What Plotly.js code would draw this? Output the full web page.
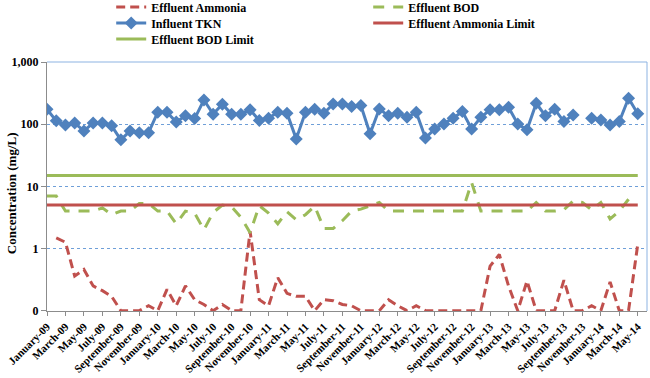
<!DOCTYPE html>
<html>
<head>
<meta charset="utf-8">
<script src="https://cdn.plot.ly/plotly-3.0.1.min.js"></script>
<style>html,body{margin:0;padding:0;background:#fff;}#chart{width:650px;height:378px;}</style>
</head>
<body>
<div id="chart"></div>
<script>
const months = [
 "January-09","February-09","March-09","April-09","May-09","June-09","July-09","August-09","September-09","October-09","November-09","December-09",
 "January-10","February-10","March-10","April-10","May-10","June-10","July-10","August-10","September-10","October-10","November-10","December-10",
 "January-11","February-11","March-11","April-11","May-11","June-11","July-11","August-11","September-11","October-11","November-11","December-11",
 "January-12","February-12","March-12","April-12","May-12","June-12","July-12","August-12","September-12","October-12","November-12","December-12",
 "January-13","February-13","March-13","April-13","May-13","June-13","July-13","August-13","September-13","October-13","November-13","December-13",
 "January-14","February-14","March-14","April-14","May-14"
];
const tickLabels = [
 "January-09","March-09","May-09","July-09","September-09","November-09",
 "January-10","March-10","May-10","July-10","September-10","November-10",
 "January-11","March-11","May-11","July-11","September-11","November-11",
 "January-12","March-12","May-12","July-12","September-12","November-12",
 "January-13","March-13","May-13","July-13","September-13","November-13",
 "January-14","March-14","May-14"
];
const influentTKN = [
 174,113,97,104,78,104,104,94,56,78,73,73,
 156,156,108,136,123,245,145,210,145,145,170,115,
 125,156,150,58,156,174,150,212,212,192,200,70,
 176,136,150,129,156,60,84,101,125,160,84,129,
 170,170,187,101,81,217,136,174,110,141,null,125,
 117,97,110,261,147
];
const effluentAmmonia = [
 null,1.48,1.26,0.36,0.46,0.25,0.21,0.17,0.1,0.1,0.1,0.12,
 0.1,0.22,0.12,0.25,0.15,0.126,0.1,0.126,0.1,0.1,1.9,0.15,
 0.12,0.34,0.19,0.17,0.17,0.1,0.15,0.145,0.126,0.12,0.1,0.1,
 0.1,0.15,0.12,0.1,0.12,0.1,0.1,0.1,0.1,0.1,0.1,0.1,
 0.52,0.8,0.25,0.1,0.3,0.1,0.1,0.1,0.31,0.1,0.1,0.12,
 0.1,0.29,0.1,0.1,1.17
];
const effluentBOD = [
 7,7,4,4,4,4,4.5,3.5,4,4,5.3,5.3,
 4,4,2.5,4,3.7,2.0,3.8,5.0,4.7,3.2,1.8,4.9,
 3.7,2.5,3.9,2.9,3.5,4.8,2.1,2.1,2.8,4.0,4.3,4.8,
 5.5,4,4,4,4,4,4,4,4,4,11.5,4,
 4,4,4,4,4,5.5,4,4,4.2,5.8,5.5,4.2,
 5.5,3.0,4.0,6.2,null
];
const ammoniaLimit = 5;
const bodLimit = 15;
const yTickVals = [0.1, 1, 10, 100, 1000];
const yTickText = ["0", "1", "10", "100", "1,000"];

const FONT = "Liberation Serif";
const RED = "#c0504d", GREEN = "#9bbb59", BLUE = "#4f81bd";
const limitX = [months[0], months[months.length - 1]];

const traces = [
 {name: "Effluent Ammonia", x: months, y: effluentAmmonia, type: "scatter", mode: "lines",
  line: {color: RED, width: 3, dash: "9px,5px"}, legend: "legend"},
 {name: "Effluent BOD", x: months, y: effluentBOD, type: "scatter", mode: "lines",
  line: {color: GREEN, width: 3, dash: "11px,9px"}, legend: "legend"},
 {name: "Influent TKN", x: months, y: influentTKN, type: "scatter", mode: "lines+markers",
  line: {color: BLUE, width: 3}, marker: {symbol: "diamond", size: 10, color: BLUE}, legend: "legend2"},
 {name: "Effluent Ammonia Limit", x: limitX, y: [ammoniaLimit, ammoniaLimit], type: "scatter", mode: "lines",
  line: {color: RED, width: 3}, legend: "legend2"},
 {name: "Effluent BOD Limit", x: limitX, y: [bodLimit, bodLimit], type: "scatter", mode: "lines",
  line: {color: GREEN, width: 3}, legend: "legend3"}
];

const legendBase = {
 orientation: "h", xanchor: "left", yanchor: "top", x: 0.107,
 entrywidth: 212, entrywidthmode: "pixels", bgcolor: "rgba(0,0,0,0)",
 font: {family: FONT, size: 12, color: "#000", weight: "bold"}
};

const layout = {
 width: 650, height: 378,
 margin: {l: 47, r: 3, t: 62, b: 67, autoexpand: false},
 paper_bgcolor: "#fff", plot_bgcolor: "#fff",
 showlegend: true,
 legend: Object.assign({}, legendBase, {y: 1.279}),
 legend2: Object.assign({}, legendBase, {y: 1.215}),
 legend3: Object.assign({}, legendBase, {y: 1.151}),
 xaxis: {
  type: "category", range: [0, 65], tickmode: "array", tickvals: tickLabels, ticktext: tickLabels,
  tickangle: -45, ticks: "outside", ticklen: 4, tickcolor: "#8c8c8c",
  showline: true, linecolor: "#8c8c8c", linewidth: 1, showgrid: false, zeroline: false,
  tickfont: {family: FONT, size: 11, color: "#000", weight: "bold"}
 },
 yaxis: {
  type: "log", range: [-1.005, 3], tickmode: "array", tickvals: yTickVals, ticktext: yTickText,
  ticks: "outside", ticklen: 5, tickcolor: "#8c8c8c",
  showline: true, linecolor: "#8c8c8c", linewidth: 1,
  showgrid: true, gridcolor: "#6f9fd8", griddash: "dot", gridwidth: 1, zeroline: false,
  tickfont: {family: FONT, size: 12, color: "#000", weight: "bold"}
 },
 shapes: [
  {type: "line", xref: "paper", yref: "paper", x0: 0, x1: 1, y0: 1, y1: 1, line: {color: "#8db3e2", width: 1}},
  {type: "line", xref: "paper", yref: "paper", x0: 1, x1: 1, y0: 0, y1: 1, line: {color: "#8db3e2", width: 1}}
 ],
 annotations: [
  {text: "Concentration (mg/L)", xref: "paper", yref: "paper", x: -0.058, y: 0.474,
   xanchor: "center", yanchor: "middle", textangle: -90, showarrow: false,
   font: {family: FONT, size: 13, color: "#000", weight: "bold"}}
 ]
};

Plotly.newPlot("chart", traces, layout, {displayModeBar: false, staticPlot: true});
</script>
</body>
</html>
